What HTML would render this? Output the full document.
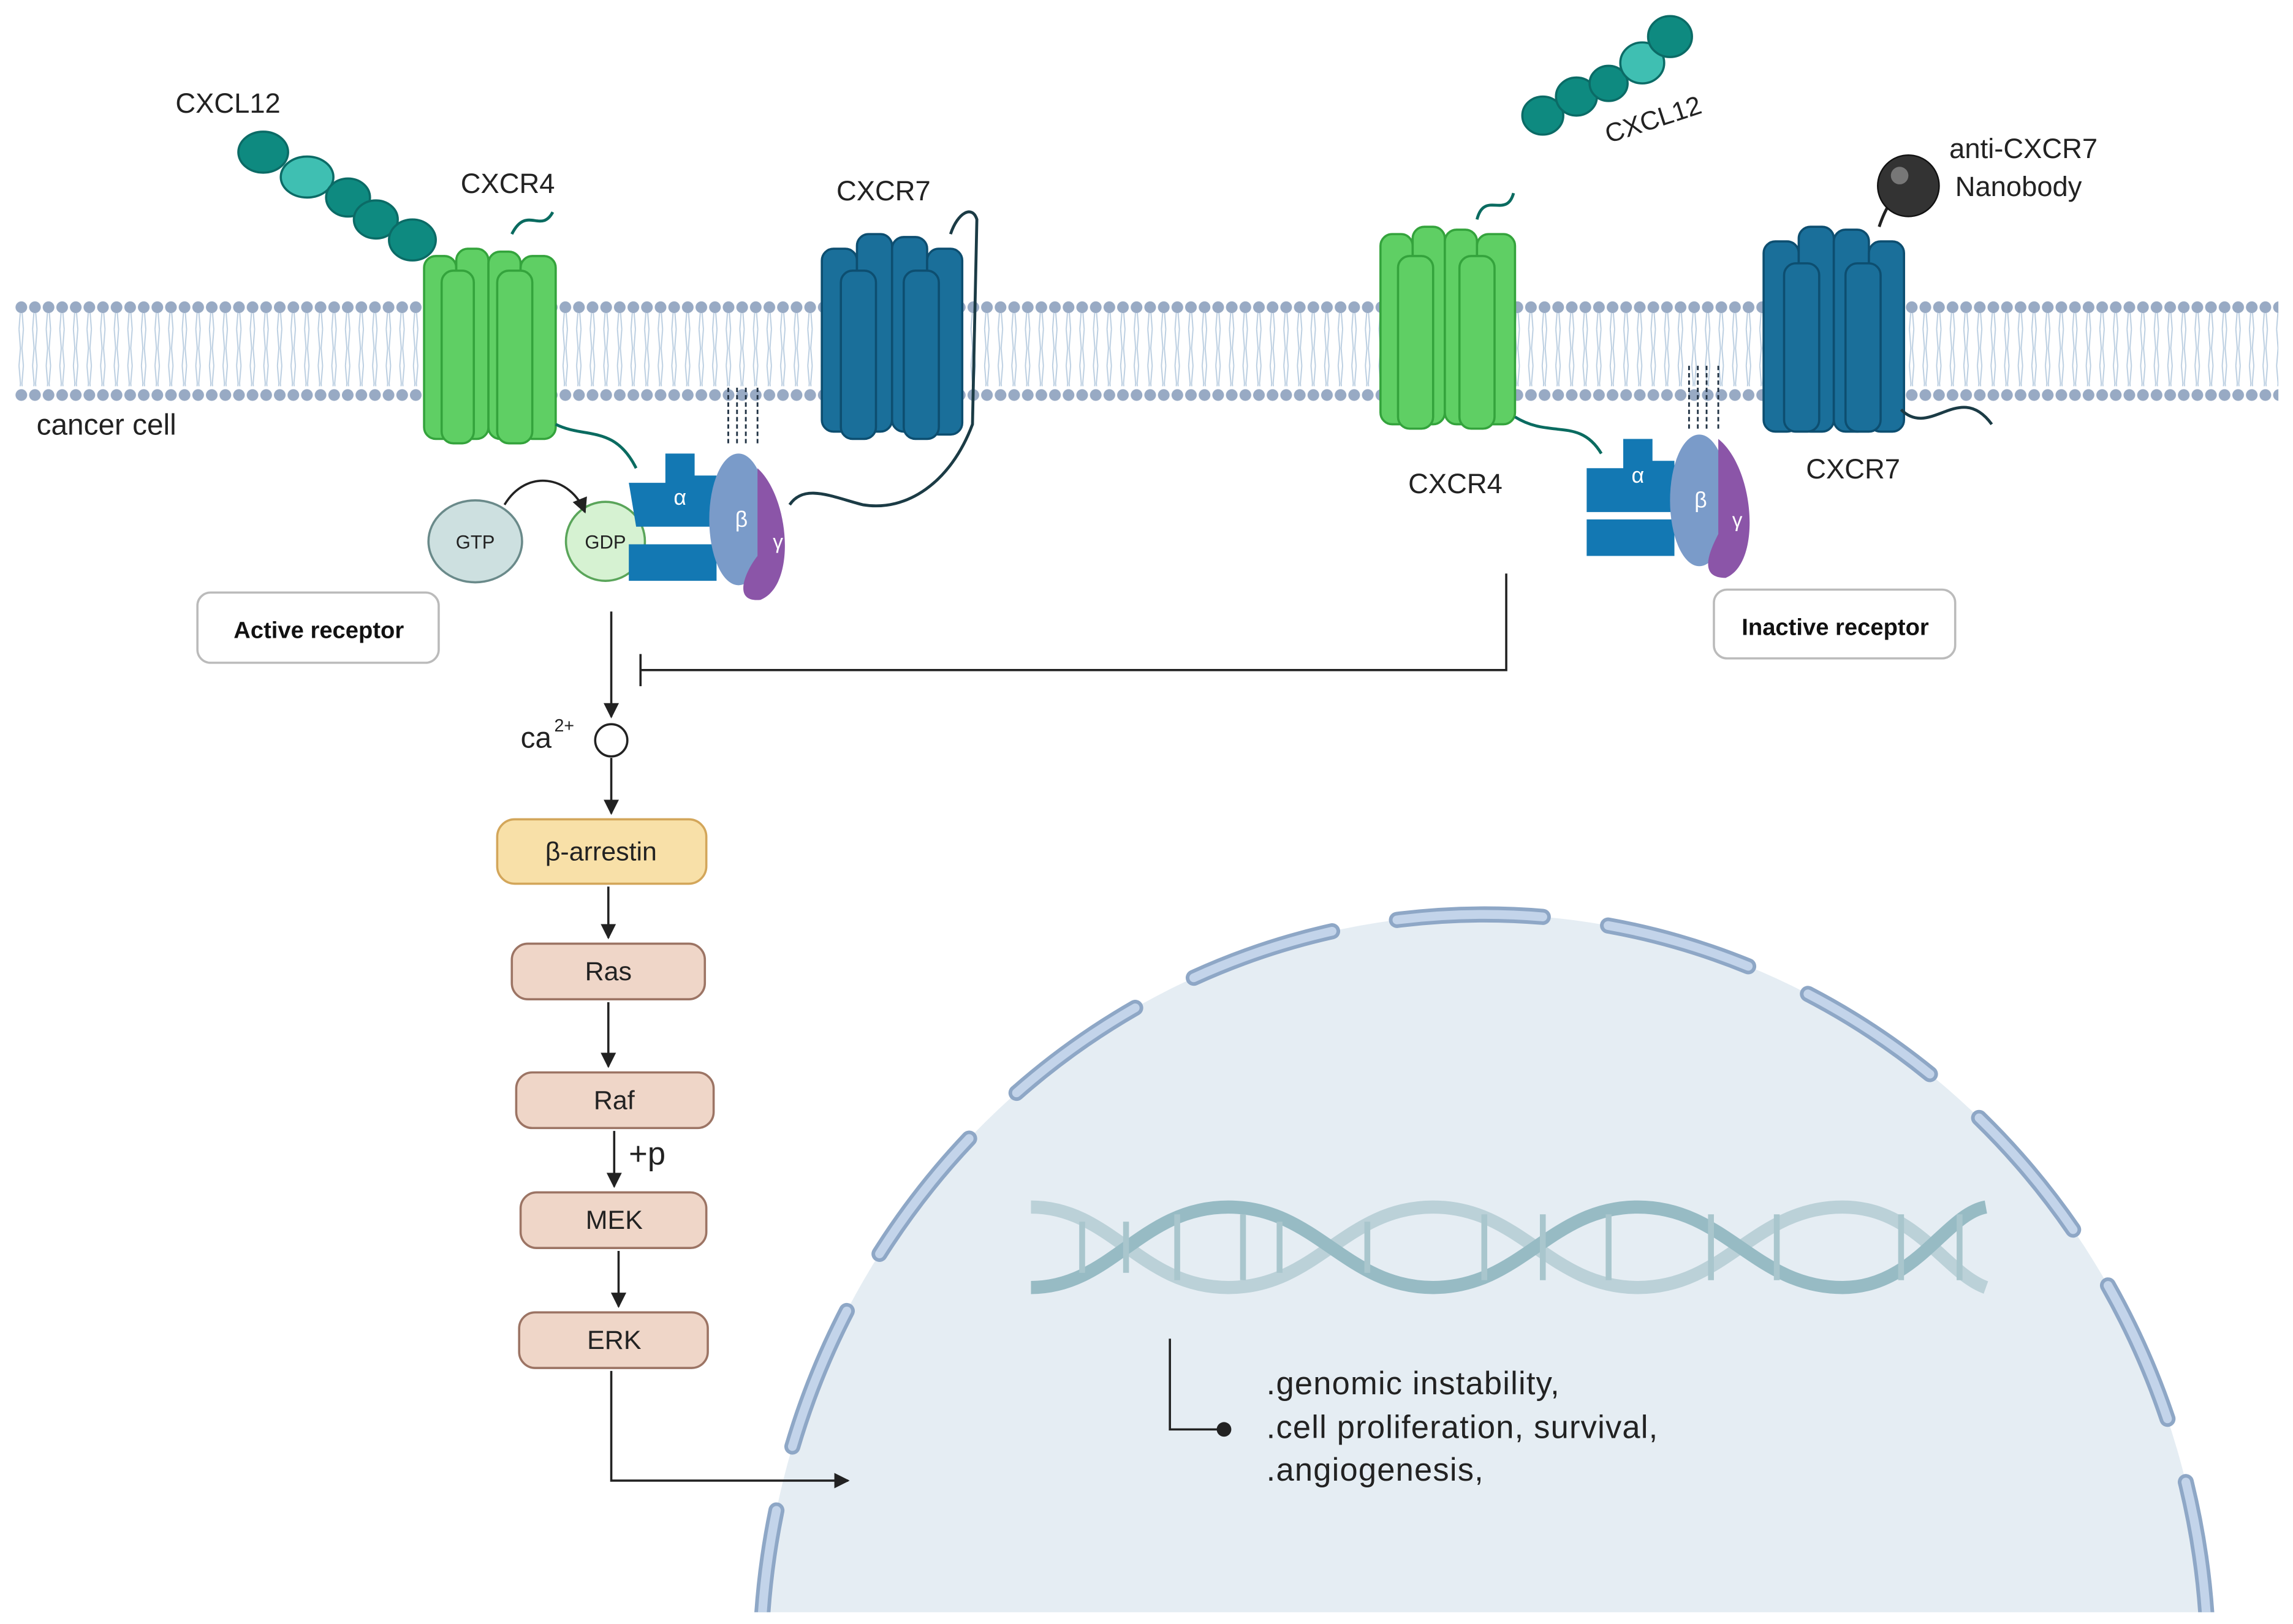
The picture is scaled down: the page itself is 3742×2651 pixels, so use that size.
<!DOCTYPE html>
<html><head><meta charset="utf-8"><style>
html,body{margin:0;padding:0;background:#fff;overflow:hidden;width:3742px;height:2651px}
svg{display:block}
text{font-family:"Liberation Sans",sans-serif}
</style></head><body>
<svg width="3742" height="2651" viewBox="0 0 1568 1110" preserveAspectRatio="none" xmlns="http://www.w3.org/2000/svg">
<defs>
<pattern id="beads" x="10" y="0" width="9.3" height="20" patternUnits="userSpaceOnUse">
<circle cx="4.6" cy="10" r="4" fill="#98aac4"/>
</pattern>
<pattern id="tails" x="10" y="0" width="9.3" height="50" patternUnits="userSpaceOnUse">
<path d="M3 0 L4 12 L3 25 M6 0 L5 12 L6 25 M3 50 L4 38 L3 25 M6 50 L5 38 L6 25" stroke="#b9cde0" stroke-width="0.8" fill="none"/>
</pattern>
<marker id="ar" viewBox="0 0 10 10" refX="9" refY="5" markerWidth="7" markerHeight="7" orient="auto"><path d="M0 0 L10 5 L0 10z" fill="#222"/></marker>
<clipPath id="cl"><rect x="0" y="0" width="1568" height="1102"/></clipPath>
</defs>
<rect width="1568" height="1110" fill="#fff"/>
<g clip-path="url(#cl)">
<ellipse cx="1015" cy="1140" rx="495" ry="515" fill="#e5edf3"/>
<ellipse cx="1015" cy="1140" rx="495" ry="515" fill="none" stroke="#8ea7c6" stroke-width="11" stroke-dasharray="100 45" stroke-linecap="round"/>
<ellipse cx="1015" cy="1140" rx="495" ry="515" fill="none" stroke="#c3d4ea" stroke-width="6" stroke-dasharray="100 45" stroke-linecap="round"/>
</g>
<rect x="0" y="1102" width="1568" height="8" fill="#fff"/>
<g fill="none" stroke-width="9" opacity="0.9">
<path d="M705 825 C760 825,780 880,840 880 C900 880,920 825,980 825 C1040 825,1060 880,1120 880 C1180 880,1200 825,1260 825 C1310 825,1330 870,1358 880" stroke="#b7cfd6"/>
<path d="M705 880 C760 880,780 825,840 825 C900 825,920 880,980 880 C1040 880,1060 825,1120 825 C1180 825,1200 880,1260 880 C1310 880,1330 830,1358 825" stroke="#8fb6c0"/>
</g>
<g stroke="#a9c6cd" stroke-width="4">
<path d="M740 835v35M770 835v35M805 830v45M850 830v45M875 835v35M935 835v35M1015 830v45M1055 830v45M1100 830v45M1170 830v45M1215 830v45M1300 830v45M1340 830v45"/>
</g>
<rect x="10" y="214" width="1548" height="50" fill="url(#tails)"/>
<rect x="10" y="199" width="1548" height="20" fill="url(#beads)"/>
<rect x="10" y="256" width="1548" height="20" fill="url(#beads)"/>
<text x="25" y="297" font-size="20" fill="#222">cancer cell</text>
<g stroke="#0b6b66" stroke-width="1.5">
<ellipse cx="180" cy="104" rx="17" ry="14" fill="#0e8a80"/>
<ellipse cx="210" cy="121" rx="18" ry="14" fill="#3fbfb2"/>
<ellipse cx="238" cy="135" rx="15" ry="13" fill="#0e8a80"/>
<ellipse cx="257" cy="150" rx="15" ry="13" fill="#0e8a80"/>
<ellipse cx="282" cy="164" rx="16" ry="14" fill="#0e8a80"/>
</g>
<text x="120" y="77" font-size="19" fill="#222">CXCL12</text>
<g stroke="#0b6b66" stroke-width="1.5">
<ellipse cx="1055" cy="79" rx="14" ry="13" fill="#0e8a80"/>
<ellipse cx="1078" cy="66" rx="14" ry="13" fill="#0e8a80"/>
<ellipse cx="1100" cy="57" rx="13" ry="12" fill="#0e8a80"/>
<ellipse cx="1123" cy="43" rx="15" ry="14" fill="#3fbfb2"/>
<ellipse cx="1142" cy="25" rx="15" ry="14" fill="#0e8a80"/>
</g>
<text x="1100" y="98" font-size="18" fill="#222" transform="rotate(-18 1100 98)">CXCL12</text>
<g fill="#5fcf64" stroke="#34a33c" stroke-width="1.5">
<rect x="290" y="175" width="22" height="125" rx="8"/>
<rect x="312" y="170" width="22" height="130" rx="8"/>
<rect x="334" y="172" width="22" height="128" rx="8"/>
<rect x="356" y="175" width="24" height="125" rx="8"/>
<rect x="302" y="185" width="22" height="118" rx="8"/>
<rect x="340" y="185" width="24" height="118" rx="8"/>
</g>
<path d="M350 160 C360 140,370 160,378 145" stroke="#0a6b60" stroke-width="2" fill="none"/>
<path d="M380 290 C400 300,420 290,435 320" stroke="#0a6b60" stroke-width="2" fill="none"/>
<text x="315" y="132" font-size="19" fill="#222">CXCR4</text>
<g fill="#1a6f9a" stroke="#0d4e70" stroke-width="1.5">
<rect x="562" y="170" width="24" height="125" rx="8"/>
<rect x="586" y="160" width="24" height="135" rx="8"/>
<rect x="610" y="162" width="24" height="133" rx="8"/>
<rect x="634" y="170" width="24" height="127" rx="8"/>
<rect x="575" y="185" width="24" height="115" rx="8"/>
<rect x="618" y="185" width="24" height="115" rx="8"/>
</g>
<path d="M650 160 C655 145,665 140,668 150 L665 290 C650 330,620 350,590 345 C570 340,550 330,540 345" stroke="#1b3b45" stroke-width="2" fill="none"/>
<text x="572" y="137" font-size="19" fill="#222">CXCR7</text>
<g>
<ellipse cx="325" cy="370" rx="32" ry="28" fill="#cde0e0" stroke="#6a8a8a" stroke-width="1.5"/>
<text x="325" y="375" font-size="13" text-anchor="middle" fill="#222">GTP</text>
<ellipse cx="414" cy="370" rx="27" ry="27" fill="#d6f2d2" stroke="#5aa55a" stroke-width="1.5"/>
<text x="414" y="375" font-size="13" text-anchor="middle" fill="#222">GDP</text>
<path d="M345 345 C360 320,390 325,400 350" stroke="#222" stroke-width="1.5" fill="none" marker-end="url(#ar)"/>
<path d="M430 330 h25 v-20 h20 v15 h15 v35 h-55 z" fill="#1378b3"/>
<path d="M430 372 h60 v25 h-60 z" fill="#1378b3"/>
<text x="465" y="345" font-size="15" fill="#fff" text-anchor="middle">α</text>
<ellipse cx="505" cy="355" rx="20" ry="45" fill="#7a9bc9"/>
<text x="507" y="360" font-size="15" fill="#fff" text-anchor="middle">β</text>
<path d="M518 320 C540 340,545 400,520 410 C500 412,510 390,518 380 Z" fill="#8b55a8"/>
<text x="532" y="375" font-size="14" fill="#fff" text-anchor="middle">γ</text>
<path d="M498 265 v40 M504 265 v40 M510 265 v40 M518 265 v40" stroke="#234" stroke-width="1.2" stroke-dasharray="3 2"/>
</g>
<g fill="#5fcf64" stroke="#34a33c" stroke-width="1.5">
<rect x="944" y="160" width="22" height="130" rx="8"/>
<rect x="966" y="155" width="22" height="135" rx="8"/>
<rect x="988" y="157" width="22" height="133" rx="8"/>
<rect x="1010" y="160" width="26" height="130" rx="8"/>
<rect x="956" y="175" width="24" height="118" rx="8"/>
<rect x="998" y="175" width="24" height="118" rx="8"/>
</g>
<path d="M1010 150 C1015 130,1030 150,1035 132" stroke="#0a6b60" stroke-width="2" fill="none"/>
<path d="M1036 285 C1060 300,1080 285,1095 310" stroke="#0a6b60" stroke-width="2" fill="none"/>
<text x="963" y="337" font-size="19" fill="#222">CXCR4</text>
<g fill="#1a6f9a" stroke="#0d4e70" stroke-width="1.5">
<rect x="1206" y="165" width="24" height="130" rx="8"/>
<rect x="1230" y="155" width="24" height="140" rx="8"/>
<rect x="1254" y="157" width="24" height="138" rx="8"/>
<rect x="1278" y="165" width="24" height="130" rx="8"/>
<rect x="1220" y="180" width="24" height="115" rx="8"/>
<rect x="1262" y="180" width="24" height="115" rx="8"/>
</g>
<path d="M1300 280 C1320 300,1340 260,1362 290" stroke="#1b3b45" stroke-width="2" fill="none"/>
<path d="M1285 155 C1290 140,1295 135,1300 130" stroke="#222" stroke-width="2" fill="none"/>
<circle cx="1305" cy="127" r="21" fill="#333" stroke="#111"/>
<circle cx="1299" cy="120" r="6" fill="#777"/>
<text x="1333" y="108" font-size="19" fill="#222">anti-CXCR7</text>
<text x="1337" y="134" font-size="19" fill="#222">Nanobody</text>
<text x="1235" y="327" font-size="19" fill="#222">CXCR7</text>
<path d="M1085 320 h25 v-20 h20 v15 h15 v35 h-60 z" fill="#1378b3"/>
<path d="M1085 355 h60 v25 h-60 z" fill="#1378b3"/>
<text x="1120" y="330" font-size="15" fill="#fff" text-anchor="middle">α</text>
<ellipse cx="1162" cy="342" rx="20" ry="45" fill="#7a9bc9"/>
<text x="1163" y="347" font-size="15" fill="#fff" text-anchor="middle">β</text>
<path d="M1175 300 C1200 320,1205 385,1180 395 C1160 395,1170 375,1175 365 Z" fill="#8b55a8"/>
<text x="1188" y="360" font-size="14" fill="#fff" text-anchor="middle">γ</text>
<path d="M1155 250 v45 M1161 250 v45 M1167 250 v45 M1175 250 v45" stroke="#234" stroke-width="1.2" stroke-dasharray="3 2"/>
<rect x="135" y="405" width="165" height="48" rx="9" fill="#fff" stroke="#bbb" stroke-width="1.5"/>
<text x="218" y="436" font-size="16" font-weight="bold" text-anchor="middle" fill="#111">Active receptor</text>
<rect x="1172" y="403" width="165" height="47" rx="9" fill="#fff" stroke="#bbb" stroke-width="1.5"/>
<text x="1255" y="434" font-size="16" font-weight="bold" text-anchor="middle" fill="#111">Inactive receptor</text>
<g stroke="#222" stroke-width="1.5" fill="none">
<path d="M418 418 V490" marker-end="url(#ar)"/>
<path d="M1030 392 V458 H438 M438 447 V469"/>
<path d="M418 518 V556" marker-end="url(#ar)"/>
<path d="M416 606 V641" marker-end="url(#ar)"/>
<path d="M416 685 V729" marker-end="url(#ar)"/>
<path d="M420 773 V811" marker-end="url(#ar)"/>
<path d="M423 855 V893" marker-end="url(#ar)"/>
<path d="M418 937 V1012 H580" marker-end="url(#ar)"/>
<path d="M800 915 V977 H835"/>
</g>
<circle cx="837" cy="977" r="5" fill="#222"/>
<circle cx="418" cy="506" r="11" fill="#fff" stroke="#222" stroke-width="1.5"/>
<text x="356" y="511" font-size="20" fill="#222">ca</text>
<text x="379" y="500" font-size="12" fill="#222">2+</text>
<text x="430" y="796" font-size="22" fill="#222">+p</text>
<rect x="340" y="560" width="143" height="44" rx="12" fill="#f8e0a8" stroke="#d3a65a" stroke-width="1.5"/>
<text x="411" y="588" font-size="18" text-anchor="middle" fill="#222">β-arrestin</text>
<g fill="#efd6c8" stroke="#9c7464" stroke-width="1.5">
<rect x="350" y="645" width="132" height="38" rx="11"/>
<rect x="353" y="733" width="135" height="38" rx="11"/>
<rect x="356" y="815" width="127" height="38" rx="11"/>
<rect x="355" y="897" width="129" height="38" rx="11"/>
</g>
<g font-size="18" text-anchor="middle" fill="#222">
<text x="416" y="670">Ras</text>
<text x="420" y="758">Raf</text>
<text x="420" y="840">MEK</text>
<text x="420" y="922">ERK</text>
</g>
<g font-size="22" fill="#222" letter-spacing="0.5">
<text x="866" y="953">.genomic instability,</text>
<text x="866" y="983">.cell proliferation, survival,</text>
<text x="866" y="1012">.angiogenesis,</text>
</g>
</svg>
</body></html>
